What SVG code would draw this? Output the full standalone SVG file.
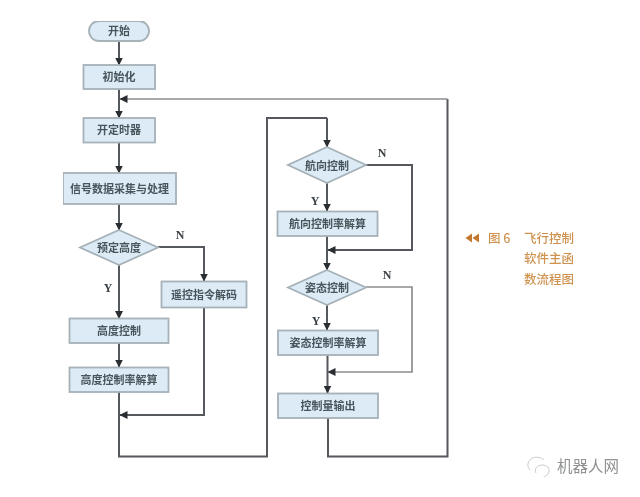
<svg xmlns="http://www.w3.org/2000/svg" width="640" height="497" viewBox="0 0 640 497">
<style>
.box{fill:#dcebf5;stroke:#a6b1b8;stroke-width:1.8}
.t{font-family:"Noto Sans CJK SC","Noto Sans",sans-serif;font-size:11px;font-weight:700;fill:#4a555d;text-anchor:middle}
.l{font-family:"Liberation Serif",serif;font-size:12px;font-weight:bold;fill:#3c4247;text-anchor:middle}
.c{fill:none;stroke:#55595c;stroke-width:2}
.c2{fill:none;stroke:#8a8d8f;stroke-width:1.7}
.o{font-family:"Noto Sans CJK SC",sans-serif;font-size:12.500px;font-weight:500;fill:#cf9350}
</style>
<defs>
<marker id="ah" viewBox="0 0 8 8" refX="7.500" refY="4" markerWidth="8" markerHeight="8" markerUnits="userSpaceOnUse" orient="auto"><path d="M0 0L8 4L0 8Z" fill="#2a2e31"/></marker>
<filter id="b" x="0" y="0" width="100%" height="100%"><feGaussianBlur stdDeviation="0.6"/></filter>
</defs>
<rect width="640" height="497" fill="#ffffff"/>
<g filter="url(#b)">
<g id="connectors">
<path class="c" marker-end="url(#ah)" d="M119 41V65"/>
<path class="c" marker-end="url(#ah)" d="M119 89V118"/>
<path class="c" marker-end="url(#ah)" d="M119 142.500V173"/>
<path class="c" marker-end="url(#ah)" d="M119 204V230"/>
<path class="c" marker-end="url(#ah)" d="M119 265V318.500"/>
<path class="c" marker-end="url(#ah)" d="M119 343V367"/>
<path class="c" marker-end="url(#ah)" d="M158 247H204V281"/>
<path class="c" marker-end="url(#ah)" d="M204 307V415H120"/>
<path class="c" d="M119 392V456.500H267V118H327"/>
<path class="c" marker-end="url(#ah)" d="M327 118V147"/>
<path class="c" marker-end="url(#ah)" d="M327 183V211"/>
<path class="c" marker-end="url(#ah)" d="M327 236V270"/>
<path class="c" marker-end="url(#ah)" d="M366 165H412V250H328"/>
<path class="c" marker-end="url(#ah)" d="M327 305V330"/>
<path class="c" marker-end="url(#ah)" d="M327.500 355V393"/>
<path class="c2" marker-end="url(#ah)" d="M366 287H412V372H328"/>
<path class="c" d="M328 418V456.500H447.500V99"/>
<path class="c2" marker-end="url(#ah)" d="M447.500 99H120"/>
</g>
<g id="start"><rect class="box" x="89" y="21" width="60" height="20" rx="10"/><text class="t" x="119" y="35">开始</text></g>
<g id="init"><rect class="box" x="83.500" y="65" width="71.500" height="24"/><text class="t" x="119" y="81">初始化</text></g>
<g id="timer"><rect class="box" x="83.500" y="118" width="71.500" height="24.500"/><text class="t" x="119" y="134">开定时器</text></g>
<g id="signal"><rect class="box" x="63" y="173" width="113" height="31"/><text class="t" x="119.500" y="193">信号数据采集与处理</text></g>
<g id="d-height"><polygon class="box" points="119,230 158,247.500 119,265 80,247.500"/><text class="t" x="119" y="252">预定高度</text></g>
<g id="remote"><rect class="box" x="161.500" y="281.500" width="85" height="26"/><text class="t" x="204" y="298.500">遥控指令解码</text></g>
<g id="height-ctrl"><rect class="box" x="69.500" y="318.500" width="99" height="24.500"/><text class="t" x="119" y="335">高度控制</text></g>
<g id="height-rate"><rect class="box" x="69.500" y="367.500" width="99" height="24.500"/><text class="t" x="119" y="384">高度控制率解算</text></g>
<g id="d-heading"><polygon class="box" points="327,147 366,165 327,183 288,165"/><text class="t" x="327" y="169.500">航向控制</text></g>
<g id="heading-rate"><rect class="box" x="277.500" y="211.500" width="100" height="24.500"/><text class="t" x="327.500" y="228">航向控制率解算</text></g>
<g id="d-attitude"><polygon class="box" points="327,270 366,287.500 327,305 288,287.500"/><text class="t" x="327" y="292">姿态控制</text></g>
<g id="attitude-rate"><rect class="box" x="278" y="330.500" width="100" height="24.500"/><text class="t" x="328" y="347">姿态控制率解算</text></g>
<g id="output"><rect class="box" x="278" y="393.500" width="100" height="24.500"/><text class="t" x="328" y="410">控制量输出</text></g>
<g id="labels">
<text class="l" x="180" y="239">N</text>
<text class="l" x="108" y="292">Y</text>
<text class="l" x="382" y="157">N</text>
<text class="l" x="315" y="205">Y</text>
<text class="l" x="387" y="279">N</text>
<text class="l" x="316" y="325">Y</text>
</g>
<g id="caption">
<path fill="#c4782e" d="M472 233.500L465.500 238L472 242.500ZM479 233.500L472.500 238L479 242.500Z"/>
<text class="o" x="488" y="242.500">图 6</text>
<text class="o" x="524" y="242.500">飞行控制</text>
<text class="o" x="524" y="263">软件主函</text>
<text class="o" x="524" y="283.500">数流程图</text>
</g>
<g id="watermark">
<path fill="none" stroke="#c8cacc" stroke-width="1" d="M530 470c-3-3-3-8 1-11c4-3 10-2 13 1M536 473c-2-4 1-8 6-8c5 0 8 3 7 7c-1 3-3 4-5 5"/>
<text x="557" y="472" font-family="'Noto Sans CJK SC',sans-serif" font-size="15.500" fill="#8f9193">机器人网</text>
</g>
</g>
</svg>
